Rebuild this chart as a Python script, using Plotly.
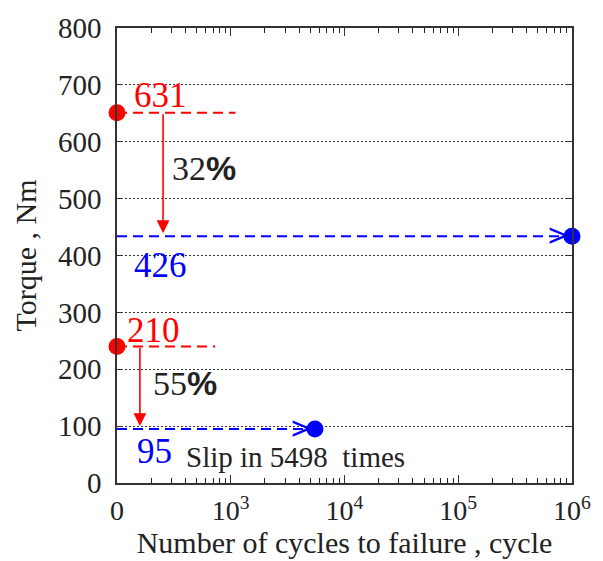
import math
import plotly.graph_objects as go

# ---- data ----
X_ORIGIN = 100            # axis origin labelled "0"
cycles_before = [0, 0]               # red points (0 cycles)
torque_before = [651, 240]
label_before = ["631", "210"]
cycles_after = [1e6, 5498]           # blue points
torque_after = [434, 95]
label_after = ["426", "95"]
red_line_end = [1100, 730]           # end of red dashed guides
arrow_cycles = [254, 159]            # x of the red drop arrows
drop_pct = ["32", "55"]
xtick_vals = [100, 1e3, 1e4, 1e5, 1e6]
xtick_text = ["0", "10<sup>3</sup>", "10<sup>4</sup>", "10<sup>5</sup>", "10<sup>6</sup>"]
xminor_vals = [k * 10 ** d for d in range(2, 6) for k in range(2, 10)]
ytick_vals = list(range(0, 801, 100))

SERIF = "Liberation Serif"
SANS = "Liberation Sans"
RED = "#ff0000"
BLUE = "#0000ff"
INK = "#222"

def xpos(c):
    return X_ORIGIN if c == 0 else c

fig = go.Figure()

# red dashed guides
for c, t, e in zip(cycles_before, torque_before, red_line_end):
    fig.add_trace(go.Scatter(x=[xpos(c), e], y=[t, t], mode="lines",
                             line=dict(color=RED, width=2, dash="10px,6px"),
                             hoverinfo="skip", showlegend=False))
# blue dashed guides
for t, c in zip(torque_after, cycles_after):
    fig.add_trace(go.Scatter(x=[X_ORIGIN, c], y=[t, t], mode="lines",
                             line=dict(color=BLUE, width=2, dash="10px,6px"),
                             hoverinfo="skip", showlegend=False))

# points
fig.add_trace(go.Scatter(x=[xpos(c) for c in cycles_before], y=torque_before,
                         mode="markers", marker=dict(color=RED, size=17),
                         cliponaxis=False, showlegend=False))
fig.add_trace(go.Scatter(x=cycles_after, y=torque_after,
                         mode="markers", marker=dict(color=BLUE, size=17),
                         cliponaxis=False, showlegend=False))

ann = []
# red drop arrows
for ac, tb, ta in zip(arrow_cycles, torque_before, torque_after):
    lx = math.log10(ac)
    ann.append(dict(x=lx, y=ta, ax=lx, ay=tb, xref="x", yref="y", axref="x", ayref="y",
                    showarrow=True, arrowhead=2, arrowsize=1.6, arrowwidth=1.6,
                    arrowcolor=RED, standoff=3, text=""))
# chevrons at blue points
for c, t in zip(cycles_after, torque_after):
    ann.append(dict(x=math.log10(c), y=t, xref="x", yref="y", text="&gt;", showarrow=False,
                    xanchor="right", yanchor="middle", xshift=-3, yshift=1,
                    font=dict(family=SANS, size=32, color=BLUE)))

# value labels
lab_pos_before = [(2.132, 682), (2.07, 269)]
lab_pos_after = [(2.132, 383), (2.158, 55)]
for (lx, ly), s in zip(lab_pos_before, label_before):
    ann.append(dict(x=lx, y=ly, xref="x", yref="y", text=s, showarrow=False,
                    xanchor="left", yanchor="middle",
                    font=dict(family=SERIF, size=35, color=RED)))
for (lx, ly), s in zip(lab_pos_after, label_after):
    ann.append(dict(x=lx, y=ly, xref="x", yref="y", text=s, showarrow=False,
                    xanchor="left", yanchor="middle",
                    font=dict(family=SERIF, size=35, color=BLUE)))
pct_pos = [(2.47, 554), (2.30, 176)]
for (lx, ly), p in zip(pct_pos, drop_pct):
    ann.append(dict(x=lx, y=ly, xref="x", yref="y",
                    text=p + "<span style='font-family:Liberation Sans'><b>%</b></span>",
                    showarrow=False, xanchor="left", yanchor="middle",
                    font=dict(family=SERIF, size=34, color=INK)))
ann.append(dict(x=2.59, y=46, xref="x", yref="y", text="Slip in 5498&nbsp; times",
                showarrow=False, xanchor="left", yanchor="middle",
                font=dict(family=SERIF, size=29, color=INK)))

# page body has an 8px default margin: shrink the figure and margins by it
OFF = 8
fig.update_layout(
    width=603 - OFF, height=561 - OFF,
    margin=dict(l=117 - OFF, r=31, t=28 - OFF, b=78),
    paper_bgcolor="white", plot_bgcolor="white",
    font=dict(family=SERIF, size=28, color=INK),
    annotations=ann,
)
fig.update_xaxes(type="log", range=[2, 6], tickvals=xtick_vals, ticktext=xtick_text,
                 automargin=False,
                 showgrid=False, zeroline=False,
                 showline=True, linecolor="#333", linewidth=1.5, mirror="ticks",
                 ticks="inside", ticklen=8, tickcolor="#333", tickwidth=1,
                 minor=dict(tickmode="array", tickvals=xminor_vals, ticks="inside", ticklen=5,
                            tickcolor="#222", tickwidth=1, showgrid=False),
                 ticklabelstandoff=2,
                 tickfont=dict(family=SERIF, size=28, color=INK),
                 title=dict(text="Number of cycles to failure , cycle",
                            font=dict(family=SERIF, size=30, color=INK), standoff=2))
fig.update_yaxes(range=[0, 800], tickvals=ytick_vals,
                 automargin=False,
                 showgrid=True, gridcolor="#333", gridwidth=1, griddash="2px,2px",
                 zeroline=False,
                 showline=True, linecolor="#333", linewidth=1.5, mirror="ticks",
                 ticks="inside", ticklen=6, tickcolor="#333", tickwidth=1,
                 ticklabelstandoff=8,
                 tickfont=dict(family=SERIF, size=29, color=INK),
                 title=dict(text="Torque , Nm", font=dict(family=SERIF, size=30, color=INK),
                            standoff=12))

fig.write_html("out.html")
